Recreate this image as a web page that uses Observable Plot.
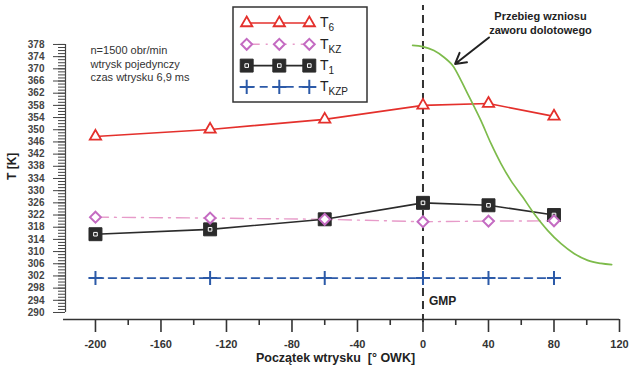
<!DOCTYPE html>
<html>
<head>
<meta charset="utf-8">
<script src="https://cdn.jsdelivr.net/npm/d3@7"></script>
<script src="https://cdn.jsdelivr.net/npm/@observablehq/plot@0.6"></script>
<style>
  body { margin: 0; background: #fff; }
  #chart { width: 629px; height: 372px; }
</style>
</head>
<body>
<div id="chart"></div>
<script>
// Injection start angle [° OWK] and measured temperatures [K]
const angle = [-200, -130, -60, 0, 40, 80];
const t6 = [347.8, 350.1, 353.4, 358.0, 358.6, 354.4];
const tKZ = [321.3, 321.0, 320.6, 319.8, 320.0, 320.1];
const t1 = [315.7, 317.3, 320.6, 326.0, 325.2, 322.0];
const tKZP = [301.3, 301.3, 301.3, 301.3, 301.3, 301.3];

// Intake valve lift trace, drawn in the temperature frame
const liftAngle = [-6.3, -0.2, 6.7, 12.8, 18.1, 23.2, 27.3, 30.4, 35.4, 41.5, 47.6, 53.7, 60.9, 67.8, 76.2, 84.3, 92.2, 100.6, 108.7, 115.2];
const liftTrace = [377.7, 377.3, 376.0, 373.8, 371.1, 366.2, 361.8, 358.5, 353.0, 345.5, 338.9, 333.3, 327.9, 322.5, 316.9, 312.6, 309.4, 307.1, 306.1, 305.7];

// Axis ticks
const xTicks = [-200, -160, -120, -80, -40, 0, 40, 80, 120];
const xMinorTicks = [-180, -140, -100, -60, -20, 20, 60, 100];
const yTicks = d3.range(290, 379, 4);
const yMinorTicks = d3.range(290, 379, 1);

// Texts
const notes = ["n=1500 obr/min", "wtrysk pojedynczy", "czas wtrysku 6,9 ms"];
const liftNote = ["Przebieg wzniosu", "zaworu dolotowego"];
const xLabel = "Początek wtrysku  [° OWK]";
const yLabel = "T [K]";
const tdcLabel = "GMP";

// Frame limits
const xMin = -218.3, xMax = 120;
const yMin = 287.7, yMax = 379.3;
const yAxisLow = 290, yAxisHigh = 378;

const symbols = {
  triangle2: d3.symbolTriangle2,
  diamond2: d3.symbolDiamond2,
  square: d3.symbolSquare,
  plus: d3.symbolPlus
};

const series = [
  {sub: "6", values: t6, line: "#e4302c", dash: null, lw: 1.6,
   symbol: "triangle2", r: 5.4, fill: "white", dot: "#e4302c", dw: 1.8},
  {sub: "KZ", values: tKZ, line: "#e79bc9", dash: "13,6,2,6", lw: 1.4,
   symbol: "diamond2", r: 4.9, fill: "white", dot: "#c46bc2", dw: 2},
  {sub: "1", values: t1, line: "#2b2b2b", dash: null, lw: 1.6,
   symbol: "square", r: 7.3, fill: "#2b2b2b", dot: "#2b2b2b", dw: 1},
  {sub: "KZP", values: tKZP, line: "#2c5aa8", dash: "8,5", lw: 1.6,
   symbol: "plus", r: 4.6, fill: "none", dot: "#2c5aa8", dw: 2}
];

const rowsOf = s => angle.map((a, i) => ({angle: a, value: s.values[i]}));
const lift = liftAngle.map((a, i) => ({angle: a, value: liftTrace[i]}));

const lineMark = s => Plot.line(rowsOf(s), {
  x: "angle", y: "value", stroke: s.line, strokeWidth: s.lw,
  strokeDasharray: s.dash ?? undefined
});
const dotMark = s => Plot.dot(rowsOf(s), {
  x: "angle", y: "value", symbol: () => s.symbol, r: s.r,
  fill: s.fill, stroke: s.dot, strokeWidth: s.dw
});
const [sT6, sKZ, sT1, sKZP] = series;

const font = "Liberation Sans, Arial, Helvetica, sans-serif";

const chart = Plot.plot({
  width: 629,
  height: 372,
  marginLeft: 65,
  marginRight: 10,
  marginTop: 40,
  marginBottom: 53,
  style: {fontFamily: font, background: "white", color: "#333"},
  x: {domain: [xMin, xMax], label: null},
  y: {domain: [yMin, yMax], label: null},
  marks: [
    // y axis
    Plot.axisY({ticks: yMinorTicks, tickSize: 7, tickFormat: () => "", color: "#444"}),
    Plot.axisY({ticks: yTicks, tickSize: 12, tickPadding: 9, tickFormat: d => String(d),
      fontSize: 10, fontWeight: "bold", color: "#444"}),
    Plot.ruleX([xMin], {y1: yAxisLow, y2: yAxisHigh, stroke: "#444", strokeWidth: 1.2}),
    // x axis
    Plot.axisX({ticks: xMinorTicks, tickSize: 6, tickFormat: () => "", color: "#333", strokeWidth: 1.6}),
    Plot.axisX({ticks: xTicks, tickSize: 13, tickPadding: 8, tickFormat: d => String(d),
      fontSize: 11, fontWeight: "bold", color: "#333", strokeWidth: 1.6}),
    Plot.ruleY([yMin], {x1: xMin - 1.2, x2: xMax, stroke: "#333", strokeWidth: 1.6}),
    // TDC marker
    Plot.ruleX([0], {y1: yMin - 1, y2: 390.8, stroke: "#333", strokeWidth: 2, strokeDasharray: "8,5"}),
    Plot.text([tdcLabel], {x: () => 0, frameAnchor: "bottom", dy: -15, dx: 6, textAnchor: "start",
      fontSize: 12, fontWeight: "bold", fill: "#222"}),
    // series lines
    lineMark(sKZP),
    lineMark(sKZ),
    lineMark(sT1),
    lineMark(sT6),
    // valve lift trace
    Plot.line(lift, {x: "angle", y: "value", stroke: "#7dbb4b", strokeWidth: 1.7, curve: "catmull-rom"}),
    // series markers
    dotMark(sKZP),
    dotMark(sT6),
    dotMark(sT1),
    Plot.dot(rowsOf(sT1), {x: "angle", y: "value", symbol: "square2", r: 2.3, stroke: "white", strokeWidth: 1}),
    dotMark(sKZ),
    // annotations
    Plot.arrow([{x1: 40.3, y1: 380.3, x2: 19.6, y2: 371.6}], {
      x1: "x1", y1: "y1", x2: "x2", y2: "y2", stroke: "#222", strokeWidth: 2, headLength: 9
    }),
    Plot.text([liftNote.join("\n")], {frameAnchor: "top-left", dx: 475, dy: -31, lineAnchor: "top",
      textAnchor: "middle", fontSize: 11, fontWeight: "bold", fill: "#222", lineHeight: 1.3}),
    Plot.text([notes.join("\n")], {frameAnchor: "top-left", dx: 25, dy: 4, lineAnchor: "top",
      textAnchor: "start", fontSize: 11, fill: "#333", lineHeight: 1.23}),
    // axis titles
    Plot.text([xLabel], {frameAnchor: "bottom", dx: -7, dy: 42, fontSize: 12.5, fontWeight: "bold", fill: "#222"}),
    Plot.text([yLabel], {frameAnchor: "left", dx: -53, rotate: -90, fontSize: 12, fontWeight: "bold", fill: "#222"})
  ]
});

document.getElementById("chart").append(chart);

// Legend box inside the plot area
const svg = d3.select(chart);
const lg = svg.append("g").attr("transform", "translate(233,7)")
  .style("font-family", font).attr("text-anchor", "start");
lg.append("rect").attr("width", 134).attr("height", 95)
  .attr("fill", "white").attr("stroke", "#333").attr("stroke-width", 1.5);
const markerX = [13.7, 46.3, 76.3];
series.forEach((s, i) => {
  const y = 16 + i * 21.3;
  lg.append("line").attr("x1", markerX[0]).attr("x2", markerX[2]).attr("y1", y).attr("y2", y)
    .attr("stroke", s.line).attr("stroke-width", s.lw)
    .attr("stroke-dasharray", s.dash);
  markerX.forEach(x => {
    lg.append("path")
      .attr("d", d3.symbol(symbols[s.symbol], Math.PI * s.r * s.r)())
      .attr("transform", `translate(${x},${y})`)
      .attr("fill", s.fill).attr("stroke", s.dot).attr("stroke-width", s.dw);
    if (s.symbol === "square") {
      lg.append("path")
        .attr("d", d3.symbol(d3.symbolSquare2, Math.PI * 2.3 * 2.3)())
        .attr("transform", `translate(${x},${y})`)
        .attr("fill", "none").attr("stroke", "white").attr("stroke-width", 1);
    }
  });
  const t = lg.append("text").attr("x", 87).attr("y", y).attr("dy", "0.3em")
    .attr("text-anchor", "start").attr("fill", "#222").attr("font-size", 14);
  t.append("tspan").text("T");
  t.append("tspan").attr("font-size", 10).attr("dy", 4).text(s.sub);
});
</script>
</body>
</html>
